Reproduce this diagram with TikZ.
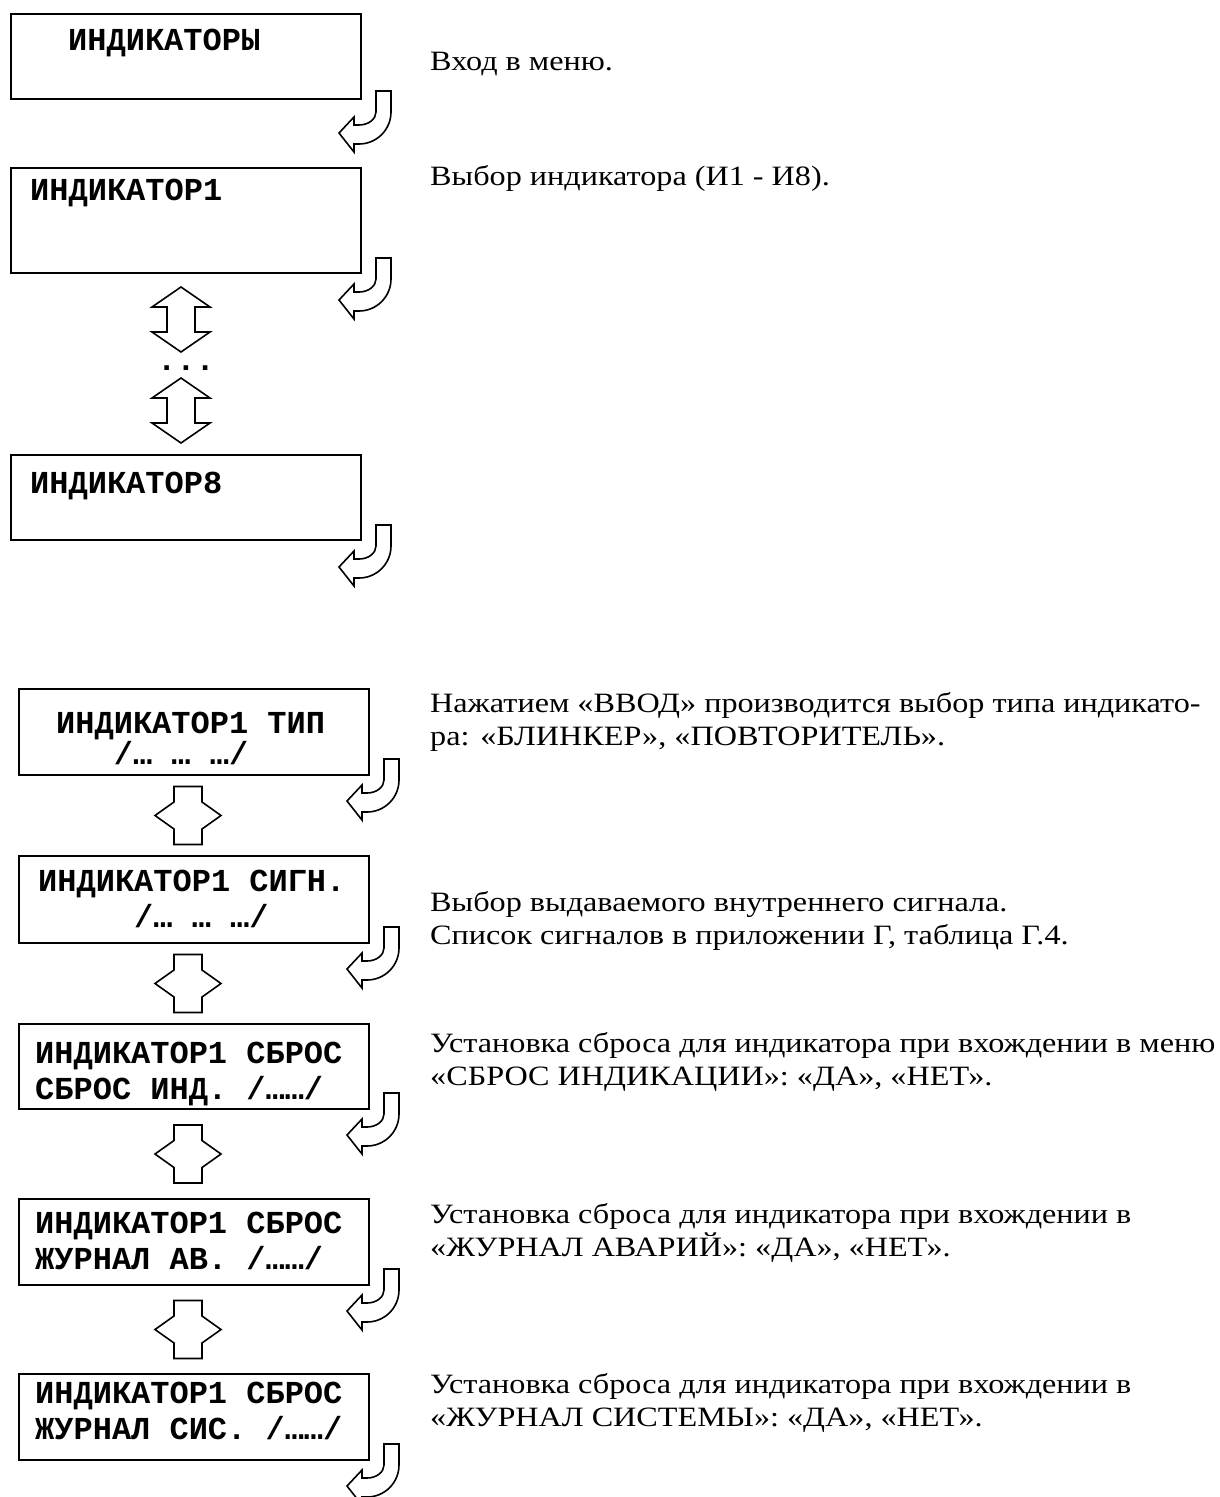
\documentclass[tikz,border=0pt]{standalone}
\usepackage{fontspec}
\setmainfont{Liberation Serif}[FakeStretch=1.15]
\newfontfamily\lcdfont{Liberation Mono}
\usepackage{tikz}
\usetikzlibrary{positioning,calc}

\tikzset{
  uturn/.pic={
    \draw[arrowline] (0,0) -- (15,0) -- (15,-21) arc[start angle=0,end angle=-90,radius=32pt]
      -- (-22,-53) -- (-22,-61) -- (-37,-42) -- (-22,-26) -- (-22,-34) -- (-17,-34)
      arc[start angle=-90,end angle=0,x radius=17pt,y radius=13pt] -- cycle;
  },
  updown/.pic={
    \draw[arrowline] (0,32.5) -- (29,12.5) -- (14,12.5) -- (14,-12.5) -- (29,-12.5) -- (0,-32.5)
      -- (-29,-12.5) -- (-14,-12.5) -- (-14,12.5) -- (-29,12.5) -- cycle;
  },
  leftright/.pic={
    \draw[arrowline] (-33,0) -- (-14,13.5) -- (-14,29) -- (14,29) -- (14,13.5) -- (33,0)
      -- (14,-13.5) -- (14,-29) -- (-14,-29) -- (-14,-13.5) -- cycle;
  }
}

\begin{document}
\begin{tikzpicture}[x=1pt, y=1pt,
    lcd/.style={draw, line width=2pt, anchor=north west, inner sep=0pt, minimum width=350pt},
    lcdtext/.style={anchor=base west, inner sep=0pt, align=left, font=\lcdfont\bfseries\fontsize{32}{36}\selectfont},
    desc/.style={anchor=base west, inner sep=0pt, align=left, font=\fontsize{28}{32.5}\selectfont},
    arrowline/.style={line width=1.6pt, line join=miter, fill=white}]
  \useasboundingbox (0,0) rectangle (1219,-1497);

  % menu entry and indicator choice
  % (two-line texts are placed at the baseline of their last line)
  \node[lcd, minimum height=85pt] (b1) at (10,-13) {};
  \node[lcdtext] (t1) at (68,-50) {ИНДИКАТОРЫ};
  \node[desc] (d1) at (430,-70) {Вход в меню.};

  \node[lcd, minimum height=105pt] (b2) at (10,-167) {};
  \node[lcdtext] (t2) at (30,-200) {ИНДИКАТОР1};
  \node[desc] (d2) at (430,-185) {Выбор индикатора (И1 - И8).};

  \node[lcdtext, anchor=base] (dots) at (186,-370) {...};

  \node[lcd, minimum height=85pt] (b3) at (10,-454) {};
  \node[lcdtext] (t3) at (30,-493) {ИНДИКАТОР8};

  \pic at ([shift={(14,9)}]b1.south east) {uturn};
  \pic at ([shift={(14,16)}]b2.south east) {uturn};
  \pic at ([shift={(14,16)}]b3.south east) {uturn};
  \pic at (181,-319.5) {updown};
  \pic at (181,-410.5) {updown};

  % settings of one indicator
  \node[lcd, minimum height=86pt] (b4) at (18,-688) {};
  \node[lcdtext] (t4) at (56,-764) {ИНДИКАТОР1 ТИП\\[-5pt]\phantom{ИНД}/… … …/};
  \node[desc] (d4) at (430,-745) {Нажатием «ВВОД» производится выбор типа индикато-\\ра: «БЛИНКЕР», «ПОВТОРИТЕЛЬ».};

  \node[lcd, minimum height=87pt] (b5) at (18,-855) {};
  \node[lcdtext] (t5) at (38,-927) {ИНДИКАТОР1 СИГН.\\\phantom{ИНДИК}/… … …/};
  \node[desc] (d5) at (430,-944) {Выбор выдаваемого внутреннего сигнала.\\Список сигналов в приложении Г, таблица Г.4.};

  \node[lcd, minimum height=85pt] (b6) at (18,-1023) {};
  \node[lcdtext] (t6) at (35,-1099) {ИНДИКАТОР1 СБРОС\\СБРОС ИНД. /……/};
  \node[desc] (d6) at (430,-1085) {Установка сброса для индикатора при вхождении в меню\\«СБРОС ИНДИКАЦИИ»: «ДА», «НЕТ».};

  \node[lcd, minimum height=86pt] (b7) at (18,-1198) {};
  \node[lcdtext] (t7) at (35,-1269) {ИНДИКАТОР1 СБРОС\\ЖУРНАЛ АВ. /……/};
  \node[desc] (d7) at (430,-1256) {Установка сброса для индикатора при вхождении в\\«ЖУРНАЛ АВАРИЙ»: «ДА», «НЕТ».};

  \node[lcd, minimum height=86pt] (b8) at (18,-1373) {};
  \node[lcdtext] (t8) at (35,-1439) {ИНДИКАТОР1 СБРОС\\ЖУРНАЛ СИС. /……/};
  \node[desc] (d8) at (430,-1426) {Установка сброса для индикатора при вхождении в\\«ЖУРНАЛ СИСТЕМЫ»: «ДА», «НЕТ».};

  \foreach \b in {b4,b5,b6,b7,b8}
    \pic at ([shift={(14,17)}]\b.south east) {uturn};
  \foreach \u/\l in {b4/b5,b5/b6,b6/b7,b7/b8}
    \pic at ($(\u.south)!0.5!(\l.north)+(-6,0)$) {leftright};
\end{tikzpicture}
\end{document}
